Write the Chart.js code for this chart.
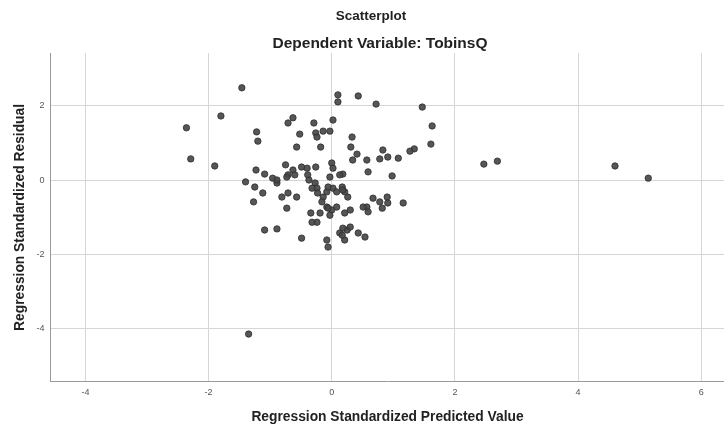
<!DOCTYPE html>
<html><head><meta charset="utf-8">
<script src="https://cdn.jsdelivr.net/npm/chart.js@4.4.1/dist/chart.umd.min.js"></script>
<style>html,body{margin:0;padding:0;background:#fff;overflow:hidden}#wrap{width:724px;height:427px}</style>
</head><body><div id="wrap"><canvas id="c" width="724" height="427"></canvas></div>
<script>
const predicted = [
 -1.46,-1.80,-2.36,-1.22,-1.20,-2.29,-1.90,-0.71,-0.63,-0.29,
  0.02,-0.52,-0.26,-0.24,-0.14,-0.03,-0.57,-0.18, 0.10, 0.10,
  0.43, 0.72, 1.47, 1.63, 1.61, 1.34, 0.33, 0.31, 0.83, 0.41,
  0.34, 0.57, 0.78, 0.91, 1.08, 0.59, 0.98, 0.00, 0.02, 0.18,
 -1.23,-1.09,-0.75,-0.63,-0.49,-0.40,-0.26,-1.40,-1.25,-1.12,
 -1.27,-0.96,-0.89,-0.71,-0.60,-0.39,-0.81,-0.71,-0.57,-0.73,
 -0.37,-0.27,-0.24,-0.32,-0.23,-0.14,-0.08, 0.02,-0.03,-0.16,
 -0.08, 0.00, 0.08, 0.21, 0.30,-0.34,-0.24,-0.19, 0.21, 0.26,
  0.57, 0.59, 0.67, 0.78, 0.90, 0.91, 0.82,-1.09,-0.89,-0.49,
 -0.08,-0.06, 0.13, 0.25, 0.30, 0.21, 0.43, 0.54,-0.89,-0.73,
  0.13,-0.06, 0.08, 0.17,-0.32,-0.03,-0.06, 0.18, 1.16, 0.51,
  1.27, 0.18, 0.17, 2.47, 2.69, 4.60, 5.14,-1.35
];
const residual = [
  2.49, 1.73, 1.41, 1.30, 1.05, 0.57, 0.38, 1.54, 1.68, 1.54,
  1.62, 1.24, 1.27, 1.16, 1.32, 1.32, 0.89, 0.89, 2.30, 2.11,
  2.27, 2.05, 1.97, 1.46, 0.97, 0.84, 1.16, 0.89, 0.81, 0.70,
  0.54, 0.54, 0.57, 0.62, 0.59, 0.22, 0.11, 0.46, 0.32, 0.16,
  0.27, 0.16, 0.41, 0.27, 0.35, 0.32, 0.35,-0.05,-0.19,-0.35,
 -0.59, 0.05,-0.08, 0.14, 0.14, 0.14,-0.46,-0.35,-0.46,-0.76,
  0.00,-0.08,-0.22,-0.22,-0.35,-0.46,-0.32,-0.22, 0.08,-0.59,
 -0.73,-0.81,-0.73,-0.89,-0.81,-0.89,-1.14,-0.89,-0.32,-0.46,
 -0.73,-0.86,-0.49,-0.59,-0.46,-0.62,-0.76,-1.35,-1.32,-1.57,
 -1.62,-1.81,-1.43,-1.35,-1.27,-1.62,-1.43,-1.54, 0.00, 0.08,
  0.14,-0.19,-0.32,-0.19,-1.14,-0.95,-0.76,-0.27,-0.62,-0.73,
  0.78,-1.30,-1.49, 0.43, 0.51, 0.38, 0.05,-4.16
];
const xTicks = [-4, -2, 0, 2, 4, 6];
const yTicks = [-4, -2, 0, 2];
const chartTitle = 'Scatterplot';
const chartSubtitle = 'Dependent Variable: TobinsQ';
const xTitle = 'Regression Standardized Predicted Value';
const yTitle = 'Regression Standardized Residual';

const FAM = "'Liberation Sans', Arial, sans-serif";
Chart.defaults.font.family = FAM;
const axisTitleFont = {family: FAM, size: 13.8, weight: 'bold', lineHeight: 1.2};
const tickFont = {family: FAM, size: 9, lineHeight: 1.2};

const titlesPlugin = {
  id: 'titles',
  afterDraw(chart) {
    const ctx = chart.ctx;
    ctx.save();
    ctx.fillStyle = '#222';
    ctx.textAlign = 'center';
    ctx.textBaseline = 'middle';
    ctx.font = 'bold 13.5px ' + FAM;
    ctx.fillText(chartTitle, 371, 16);
    ctx.font = 'bold 15.5px ' + FAM;
    ctx.fillText(chartSubtitle, 380, 43.5);
    ctx.restore();
  }
};

new Chart(document.getElementById('c').getContext('2d'), {
  type: 'scatter',
  data: {
    datasets: [{
      data: predicted.map((x, i) => ({x: x, y: residual[i]})),
      pointRadius: 3.2,
      pointBackgroundColor: 'rgba(72,72,72,0.92)',
      pointBorderColor: '#2e2e2e',
      pointBorderWidth: 0.8
    }]
  },
  plugins: [titlesPlugin],
  options: {
    responsive: false,
    animation: false,
    devicePixelRatio: 1,
    layout: {autoPadding: false, padding: {left: 0, right: 0, top: 53, bottom: 0}},
    plugins: {
      legend: {display: false},
      tooltip: {enabled: false},
      title: {display: false},
      subtitle: {display: false}
    },
    scales: {
      x: {
        type: 'linear', min: -4.56, max: 6.37,
        afterBuildTicks: s => { s.ticks = xTicks.map(v => ({value: v})); },
        grid: {color: '#d6d6d6', lineWidth: 1, drawTicks: false},
        border: {color: '#9a9a9a', width: 1},
        ticks: {padding: 4.8, font: tickFont, color: '#555', maxRotation: 0},
        title: {display: true, text: xTitle, color: '#222', font: axisTitleFont, padding: {top: 6.6, bottom: 1.6}}
      },
      y: {
        type: 'linear', min: -5.45, max: 3.43,
        afterBuildTicks: s => { s.ticks = yTicks.map(v => ({value: v})); },
        grid: {color: '#d6d6d6', lineWidth: 1, drawTicks: false},
        border: {color: '#9a9a9a', width: 1},
        ticks: {padding: 6.5, font: tickFont, color: '#555'},
        title: {display: true, text: yTitle, color: '#222', font: axisTitleFont, padding: {top: 11.7, bottom: 1.7}}
      }
    }
  }
});
</script>
</body></html>
